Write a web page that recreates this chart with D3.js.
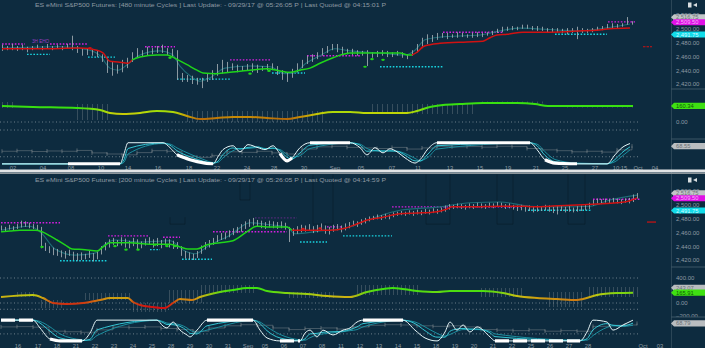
<!DOCTYPE html>
<html><head><meta charset="utf-8">
<script src="https://cdn.jsdelivr.net/npm/d3@7"></script>
<style>html,body{margin:0;padding:0;background:#0d2b3f;overflow:hidden}svg{display:block}
text{font-family:"Liberation Sans",Arial,sans-serif}</style>
</head><body><svg id="c" width="705" height="348"></svg>
<script>
// ===================== DATA =====================
const titleTop = "ES eMini S&P500 Futures: [480 minute Cycles ] Last Update:  - 09/29/17 @ 05:26:05 P | Last Quoted @ 04:15:01 P";
const titleBot = "ES eMini S&P500 Futures: [200 minute Cycles ] Last Update:  - 09/29/17 @ 05:26:05 P | Last Quoted @ 04:14:59 P";
const topNote = "3H EHO";

// ---- top panel (480 min bars) ----
const topHigh = [2477,2475,2478,2475,2477,2474,2475,2477,2475,2478,
2475,2477,2475,2478,2490,2475,2472,2471,2471,2469,
2463,2458,2452,2448,2455,2458,2466,2472,2469,2474,
2472,2475,2477,2472,2471,2469,2436,2433,2432,2429,
2429,2435,2440,2449,2455,2452,2450,2448,2446,2449,
2450,2448,2446,2449,2450,2446,2440,2437,2442,2450,
2455,2461,2463,2466,2472,2475,2478,2478,2474,2471,
2471,2469,2468,2469,2466,2468,2469,2468,2466,2468,
2466,2463,2469,2478,2487,2492,2491,2494,2494,2494,
2492,2495,2494,2492,2494,2495,2494,2495,2497,2500,
2503,2503,2504,2503,2506,2506,2504,2504,2503,2501,
2501,2501,2500,2501,2501,2503,2501,2500,2501,2503,
2504,2507,2508,2507,2508,2517,2511];
const topLow = [2468,2469,2469,2468,2469,2466,2469,2471,2469,2471,
2469,2471,2469,2471,2469,2465,2461,2462,2461,2459,
2452,2436,2432,2435,2437,2443,2452,2458,2459,2462,
2463,2465,2465,2462,2459,2426,2423,2423,2420,2419,
2414,2423,2426,2432,2435,2437,2440,2437,2439,2439,
2437,2436,2439,2440,2440,2433,2426,2423,2429,2437,
2443,2449,2452,2456,2461,2465,2469,2466,2463,2463,
2462,2461,2461,2446,2458,2459,2461,2459,2459,2461,
2458,2456,2461,2466,2472,2478,2481,2484,2487,2485,
2487,2487,2488,2487,2487,2488,2488,2490,2491,2494,
2495,2497,2498,2498,2500,2500,2498,2497,2497,2495,
2494,2495,2494,2492,2494,2485,2494,2494,2495,2497,
2498,2500,2501,2501,2503,2506,2506];
const topMaIdx = [0,7.6,15.6,19,20.2,21.6,23.2,25.2,26,27.6,31,33,34.2,35.2,37,39,40.2,43,45.6,49.6,53,55.6,57.6,59.6,61.6,63.6,66.2,68.2,69.6,73.6,79.6,81.2,82,83,84.2,85.6,87.6,93,96.2,97.6,99,101,104.2,109.6,116.2,119,121.6,125.6];
const topMaVal = [2471,2471,2472,2469,2465,2453,2452,2450,2455,2459,2462,2462,2459,2455,2448,2440,2436,2435,2437,2440,2442,2439,2437,2440,2443,2450,2458,2463,2465,2465,2465,2462,2462,2466,2474,2477,2479,2481,2482,2487,2491,2492,2495,2495,2497,2498,2500,2501];
const topMaUp  = [0,0,0,0,0,0,0,0,1,1,1,1,1,1,1,1,1,1,1,1,1,1,1,1,1,1,1,1,1,1,1,1,0,0,0,0,0,0,0,0,0,0,0,0,0,0,0,0];
const topFastIdx = [0,11.6,17.6,19.6,21.6,23.2,25.2,27.6,31.6,34,35.6,37.6,39.6,41.6,44.6,49.6,53.6,56.6,58.6,60.6,63.6,66.6,69.6,75.6,80.6,82.6,84.6,87.6,95.6,99.6,103.6,111.6,115.6,119.6,125.6];
const topFastVal = [2472,2474,2469,2461,2443,2440,2449,2462,2468,2463,2446,2432,2424,2429,2443,2446,2445,2435,2436,2449,2461,2471,2468,2465,2462,2469,2484,2488,2491,2497,2501,2498,2497,2500,2507];
const topMagStart = [0,9.6,28.6,45.6,61,88.2,121.2];
const topMagEnd   = [4.6,17,34.6,53.6,71.6,100.2,126.6];
const topMagPrice = [2478,2478,2474,2455,2461,2495,2510];
const topCyanStart = [5,17.2,35,54,75.6,110.6];
const topCyanEnd   = [9.6,22.6,45.6,60.6,88.2,121];
const topCyanPrice = [2463,2459,2427,2436,2445,2492];
const topDotIdx = [17.6,33.6,49.6,53.4,72.6,74,76.2];
const topDotVal = [2472,2458,2435,2439,2445,2456,2455];
const topDotUp  = [0,1,1,1,1,1,1];
const topTarget = [128.2,130,2474];
const topPriceTicks = [2420,2440,2460,2480,2500,2520];
const topLast = [2516.75, 2509.50, 2491.75];
// oscillator
const topOscIdx = [0,6.2,15,19.6,21.6,24.2,27.6,31,34.2,37,39.6,43,46.2,49.6,53,57,59.6,63,66.2,69.6,73,77.6,81,83,85.6,88.2,91.6,96.2,103,106.6,109.2,112.6,119.6,126.2];
const topOscVal = [160,150,140,120,90,80,90,110,100,60,30,40,50,50,40,30,50,80,100,100,90,90,90,110,150,170,180,190,190,180,160,160,160,160.34];
const topBandStart = [0,15,37,74,96,113];
const topBandEnd   = [2,21,64,94,108,126];
const topBandHi    = [200,180,110,180,205,170];
const topBandLo    = [140,20,0,80,185,145];
const topOscTicks = [0,-200];
const topOscGrid = [0,-80];
// cycles
const topCycIdx = [0,13.2,23.6,24.4,25.2,32.2,33.6,35,37.6,40.6,42.2,43.2,44.2,46.2,47.6,49.2,51.2,52.6,54.2,55.6,57,58,59.6,61.6,69.6,71.6,73,74.6,76.2,77.6,79,80.6,82.6,83.6,85.2,87,105.6,107,108.6,110.6,115,121,122.6,124,125.6];
const topCycA = [4,4,4,41,81,81,63,37,19,7,4,30,56,70,48,74,63,56,70,41,15,26,63,81,81,63,37,63,44,59,48,26,7,19,59,81,81,56,19,7,4,4,37,63,78];
const topCycB = [4,4,4,20,60,80,72,52,30,12,6,14,38,62,58,64,66,58,62,52,28,22,44,72,81,72,50,52,50,52,50,36,15,14,40,70,81,70,35,12,5,4,20,45,66];
const topCycC = [4,4,4,10,40,78,76,62,40,18,9,10,26,52,60,60,64,60,60,56,38,28,34,60,80,76,60,52,52,50,50,42,24,16,28,58,80,76,48,20,7,5,12,32,55];
const topWhiteStart = [13.2,35,55.6,61.6,87,108.6];
const topWhiteEnd   = [23.6,42.2,58,69.6,105.6,115];
const topGrayVal = [50,52,49,51,50,53,44,40,37,45,52,50,32,28,35,48,46,50,44,40,58,66,68,64,62,60,64,58,62,68,66,67,65,68,67,60,55,52,48,50,47,55,68.55];
const topXIdx = [2.2,8.2,13.8,19.8,25.2,31.2,37.4,43,49,54.4,60.4,66.6,71.8,78,83.2,89.6,95.6,101.2,106.8,112.6,118.6,123.6,127.2,130.6];
const topXLab = ["02","04","08","10","14","16","18","22","24","28","30","Sep","05","07","11","13","15","19","21","25","27","10:15","Oct","04"];

// ---- bottom panel (200 min bars) ----
const botHigh = [2470,2468,2471,2469,2472,2477,2476,2474,2472,2471,
2468,2445,2440,2438,2436,2434,2433,2435,2432,2430,
2431,2429,2433,2430,2432,2440,2446,2450,2452,2449,
2453,2451,2448,2452,2450,2447,2451,2453,2450,2452,
2449,2451,2450,2448,2446,2440,2433,2431,2429,2433,
2441,2446,2449,2452,2456,2459,2460,2463,2466,2468,
2472,2476,2479,2481,2478,2477,2475,2477,2476,2475,
2476,2474,2468,2466,2469,2471,2470,2472,2469,2471,
2473,2470,2468,2471,2472,2470,2473,2475,2477,2476,
2479,2481,2483,2484,2486,2485,2487,2486,2489,2490,
2491,2490,2492,2491,2493,2492,2494,2493,2495,2494,
2496,2499,2501,2500,2502,2501,2500,2502,2501,2503,
2502,2501,2503,2502,2504,2503,2501,2502,2500,2499,
2500,2498,2499,2497,2499,2498,2500,2499,2497,2498,
2499,2497,2498,2496,2498,2499,2500,2503,2507,2509,
2508,2509,2508,2510,2509,2508,2509,2510,2515,2517];
const botLow = [2463,2462,2464,2462,2465,2467,2468,2466,2465,2463,
2437,2433,2430,2427,2426,2424,2422,2426,2420,2419,
2420,2421,2423,2418,2421,2428,2434,2438,2442,2440,
2441,2438,2437,2440,2436,2437,2441,2442,2438,2440,
2437,2441,2438,2436,2436,2426,2422,2421,2420,2423,
2429,2435,2438,2442,2446,2449,2450,2453,2456,2459,
2461,2465,2468,2470,2468,2466,2465,2467,2466,2465,
2466,2464,2446,2455,2458,2460,2461,2462,2459,2460,
2463,2458,2457,2461,2463,2460,2463,2466,2469,2468,
2471,2473,2476,2478,2479,2478,2480,2479,2482,2484,
2485,2484,2486,2484,2486,2485,2487,2486,2488,2487,
2489,2490,2493,2494,2495,2494,2493,2495,2494,2496,
2495,2494,2496,2495,2497,2496,2494,2495,2493,2491,
2492,2490,2491,2489,2490,2491,2492,2490,2488,2486,
2491,2489,2490,2489,2490,2491,2492,2494,2499,2502,
2501,2503,2502,2503,2502,2501,2503,2502,2504,2509];
const botMaIdx = [0,2.25,4.75,8.5,10.25,12.25,14,16,17.75,21,24,25.5,27.25,32.25,37.25,42.25,44.75,46.75,49,51.5,54.75,58,61.5,64,66.5,71.5,72.75,77.25,82.25,86,88.5,91,95.5,99.75,104,109,111.5,112.75,117.25,124.75,131,132.75,137.25,145.5,149,154,157.25,159];
const botMaVal = [2461,2462,2463,2463,2461,2455,2449,2442,2436,2435,2433,2439,2445,2445,2443,2443,2439,2436,2436,2442,2445,2448,2461,2469,2468,2468,2463,2463,2463,2466,2471,2477,2482,2487,2488,2490,2494,2497,2497,2498,2498,2497,2498,2500,2501,2503,2506,2510];
const botMaUp  = [1,1,1,1,1,1,1,1,1,1,1,1,1,1,1,1,1,1,1,1,1,1,1,1,1,1,0,0,0,0,0,0,0,0,0,0,0,0,0,0,0,0,0,0,0,0,0,0];
const botFastIdx = [0,7.25,10.25,13.5,18.5,23.5,26,28.5,34.75,42.25,46,48.5,52.25,57.25,62.25,67.25,71.5,73.5,79.75,86,92.25,99.75,109.75,117.25,124.75,132.25,139.75,147.25,152.25,159];
const botFastVal = [2463,2469,2458,2436,2427,2430,2443,2449,2446,2448,2433,2429,2442,2456,2474,2471,2468,2458,2462,2466,2479,2492,2497,2503,2504,2498,2497,2498,2507,2514];
const botMagStart = [0,26.75,40.5,53,81.5,97.75,148];
const botMagEnd   = [14.75,36.75,44.75,71.5,85.5,130.5,159.75];
const botMagPrice = [2474,2455,2453,2461,2468,2497,2508];
const botFaint = [63.5,74,2481];
const botCyanStart = [14.75,37.25,45.25,74.75,85.5,131.75];
const botCyanEnd   = [26.5,39.75,52.75,81.5,97.75,147.75];
const botCyanPrice = [2419,2435,2421,2446,2455,2492];
const botDotIdx = [10.25,28.5,31.25,34.25,38.5,41.5,43.5,75.5,79.75];
const botDotVal = [2439,2440,2435,2435,2442,2440,2440,2465,2466];
const botDotUp  = [1,1,1,1,1,1,1,0,0];
const botTarget = [161.5,163.75,2475];
const botPriceTicks = [2420,2440,2460,2480,2500,2520];
const botLast = [2516.75, 2509.50, 2491.75];
// ghost drawing boxes (index start, index end, price top, price bottom)
const botGhostS = [42.25,59.75,78,106.25,124,141.75];
const botGhostE = [46,62.25,83,112.25,128,146];
const botGhostTop = [2482,2545,2545,2545,2545,2545];
const botGhostBot = [2472,2507,2472,2472,2472,2472];
const botOscIdx = [0,8,10.5,13,16.5,20.5,24.75,27.25,31.75,33,34.75,38,41,43,44.75,47.75,49.75,54.75,58,61.5,64,66.5,71.5,76.5,81.5,87.25,91.5,95.5,98,104,109,112.25,120.5,125.5,129,134,139,144,145.5,149,154,158];
const botOscVal = [96,128,80,0,-16,0,48,80,80,16,-32,-64,-80,0,64,48,96,176,208,240,240,192,160,144,112,96,176,224,240,192,176,192,192,160,112,80,64,48,64,128,160,165.91];
const botBandStart = [4,10,21,33,42,50,72,89,120,137,147];
const botBandEnd   = [8,15,32,41,50,63,83,104,130,145,159];
const botBandHi    = [176,48,160,0,208,288,176,288,240,176,256];
const botBandLo    = [96,-80,48,-144,0,160,80,128,96,-64,96];
const botOscTicks = [400,0,-200];
const botOscGrid = [400,0,-100];
const botOscPrev = 243.07;
const botCycIdx = [0,8,9.75,12.25,14.75,20.25,22.25,24,39,40.5,41.5,43,44.75,46.5,47.25,49,51.5,63,64.75,66.5,69.75,74.75,76,77.25,79,80.5,83,85.5,87.25,89,90.5,100.5,103.5,106,109,111,112.25,114,115.5,117.25,119,122.25,123.5,144.75,146.5,148,151.5,153,155.5,158];
const botCycA = [81,81,52,11,4,4,33,81,81,59,52,74,44,26,19,44,81,81,44,15,4,4,33,44,19,44,26,44,52,74,81,81,44,15,4,37,74,44,63,37,56,19,4,4,37,81,74,44,63,81];
const botCycB = [81,81,70,40,15,5,10,45,81,72,65,64,58,42,32,30,60,81,68,42,15,5,12,30,32,36,38,40,46,56,68,81,68,42,18,18,40,48,50,48,48,34,20,5,12,45,68,62,60,70];
const botCycC = [81,81,76,56,30,8,6,24,80,76,70,68,64,52,44,36,44,80,74,56,28,8,7,16,26,30,34,38,42,46,56,80,74,56,32,22,28,40,46,46,46,40,30,7,7,24,54,60,58,62];
const botWhiteStart = [0,12.25,51.5,69.75,90.5,123.5];
const botWhiteEnd   = [8,20.25,63,74.75,100.5,144.75];
const botWhiteDash  = [1,0,0,1,0,1];
const botGrayVal = [56,57,55,40,38,36,45,55,54,56,50,46,40,52,60,64,62,52,46,50,52,48,56,62,64,63,60,58,60,56,46,44,42,45,40,42,40,58,62,63,68.79];
const botXIdx = [4.25,9.25,14,18.75,23.5,28.25,33,37.75,42.5,47.25,52,56.75,61.75,66,70.75,75.5,80.25,85,89.75,94.5,99.25,104,108.75,113.5,118.25,123,127.75,132.5,137.25,142,146.75,160.5,164.75];
const botXLab = ["16","17","18","21","22","23","24","25","28","29","30","31","Sep","05","06","07","08","11","12","13","14","15","18","19","20","21","22","25","26","27","28","Oct","03"];

// ===================== DRAW =====================
const svg = d3.select('#c');
const defs = svg.append('defs');
const W = 705, AX = 671;
const GREEN = '#1fd41a', RED = '#d11212', MAG = '#d41ee0', CYAN = '#18d4e0';
const TXT = '#8d9aa3';
const FONT = '"Liberation Sans",Arial,sans-serif';

svg.append('rect').attr('width', W).attr('height', 348).attr('fill', '#0d2b3f');

let clipN = 0;
function paneG(y0, y1) {
  const id = 'clp' + (clipN++);
  defs.append('clipPath').attr('id', id).append('rect').attr('x', 0).attr('y', y0).attr('width', AX).attr('height', y1 - y0);
  return svg.append('g').attr('clip-path', `url(#${id})`);
}
function axisClip(y0, y1) {
  const id = 'clp' + (clipN++);
  defs.append('clipPath').attr('id', id).append('rect').attr('x', AX).attr('y', y0).attr('width', W - AX).attr('height', y1 - y0);
  return svg.append('g').attr('clip-path', `url(#${id})`);
}
function valueBox(g, yPos, text, fill, color) {
  const h = 6.2, x0 = 674;
  g.append('path').attr('d', `M${x0 - 3},${yPos} L${x0},${yPos - h / 2} L${W},${yPos - h / 2} L${W},${yPos + h / 2} L${x0},${yPos + h / 2} Z`).attr('fill', fill);
  g.append('text').attr('x', 676).attr('y', yPos).attr('dy', '0.35em').attr('font-size', 5.8).attr('fill', color).text(text);
}
function dotted(g, x, y, s, e, p, color, w, op) {
  s.forEach((d, i) => g.append('line').attr('x1', x(d)).attr('x2', x(e[i])).attr('y1', y(p[i])).attr('y2', y(p[i]))
    .attr('stroke', color).attr('stroke-width', w).attr('stroke-dasharray', '1.6,1.6').attr('opacity', op));
}
function trendLine(g, x, y, idx, val, up) {
  const runs = []; let cur = { up: up[0], pts: [[idx[0], val[0]]] };
  for (let i = 1; i < idx.length; i++) {
    cur.pts.push([idx[i], val[i]]);
    if (up[i] !== cur.up) { runs.push(cur); cur = { up: up[i], pts: [[idx[i], val[i]]] }; }
  }
  runs.push(cur);
  const line = d3.line().x(d => x(d[0])).y(d => y(d[1])).curve(d3.curveMonotoneX);
  runs.forEach(r => g.append('path').attr('d', line(r.pts)).attr('fill', 'none').attr('stroke', r.up ? GREEN : RED).attr('stroke-width', 1.5));
}
let gradN = 0;
function gradLine(g, x, y, idx, val, cs) {
  const id = 'grd' + (gradN++);
  const x0 = x(idx[0]), x1 = x(idx[idx.length - 1]);
  const gr = defs.append('linearGradient').attr('id', id).attr('gradientUnits', 'userSpaceOnUse')
    .attr('x1', x0).attr('x2', x1).attr('y1', 0).attr('y2', 0);
  idx.forEach((d, i) => gr.append('stop').attr('offset', (x(d) - x0) / (x1 - x0)).attr('stop-color', cs(val[i])));
  g.append('path').attr('d', d3.line().x(d => x(d[0])).y(d => y(d[1])).curve(d3.curveMonotoneX)(idx.map((d, i) => [d, val[i]])))
    .attr('fill', 'none').attr('stroke', `url(#${id})`).attr('stroke-width', 2);
}

function drawPanel(P) {
  const { x, y, o, c } = P;
  // ghost drawings
  if (P.ghostS) {
    const gg = paneG(P.ghostTopPx, P.priceBot);
    P.ghostS.forEach((s, i) => gg.append('path')
      .attr('d', `M${x(s)},${y(P.ghostTop[i])} L${x(s)},${y(P.ghostBot[i])} L${x(P.ghostE[i])},${y(P.ghostBot[i])} L${x(P.ghostE[i])},${y(P.ghostTop[i])}`)
      .attr('fill', 'none').attr('stroke', '#07161f').attr('stroke-width', 0.8).attr('opacity', 0.5));
  }
  // ----- title -----
  svg.append('text').attr('x', 35).attr('y', P.titleY).attr('dy', '0.35em').attr('font-size', 6.2).attr('fill', TXT)
    .attr('textLength', 351).attr('lengthAdjust', 'spacingAndGlyphs').text(P.title);
  // ----- price pane -----
  const gp = paneG(P.priceTop, P.priceBot);
  dotted(gp, x, y, P.magS, P.magE, P.magP, MAG, 1.4, 1);
  if (P.faint) dotted(gp, x, y, [P.faint[0]], [P.faint[1]], [P.faint[2]], '#7a2a9a', 1, 0.8);
  dotted(gp, x, y, P.cyS, P.cyE, P.cyP, CYAN, 1.4, 1);
  if (P.note) gp.append('text').attr('x', x(P.note[0])).attr('y', y(P.note[1])).attr('font-size', 4.6)
    .attr('fill', '#9b3cc4').text(P.note[2]);
  gp.append('path').attr('d', d3.line().x((d, i) => x(P.fastIdx[i])).y(d => y(d)).curve(d3.curveMonotoneX)(P.fastVal))
    .attr('fill', 'none').attr('stroke', '#1d6a75').attr('stroke-width', 1.1);
  gp.selectAll('line.bar').data(P.high).enter().append('line')
    .attr('x1', (d, i) => x(i) + 0.5).attr('x2', (d, i) => x(i) + 0.5)
    .attr('y1', d => y(d)).attr('y2', (d, i) => y(P.low[i]))
    .attr('stroke', '#a3adb3').attr('stroke-width', 1).attr('opacity', 0.85);
  trendLine(gp, x, y, P.maIdx, P.maVal, P.maUp);
  P.dotIdx.forEach((d, i) => gp.append('ellipse').attr('cx', x(d)).attr('cy', y(P.dotVal[i])).attr('rx', 1.8).attr('ry', 1.1)
    .attr('fill', P.dotUp[i] ? GREEN : RED));
  gp.append('line').attr('x1', x(P.target[0])).attr('x2', x(P.target[1])).attr('y1', y(P.target[2])).attr('y2', y(P.target[2]))
    .attr('stroke', RED).attr('stroke-width', 1.2).attr('stroke-dasharray', P.targetDash);
  // ----- oscillator pane -----
  const go = paneG(P.oscTop, P.oscBot);
  P.oscGrid.forEach(v => go.append('line').attr('x1', 0).attr('x2', 640).attr('y1', o(v)).attr('y2', o(v))
    .attr('stroke', '#6d7f8a').attr('stroke-width', 1).attr('stroke-dasharray', '1,2.5'));
  P.bandS.forEach((s, b) => {
    for (let i = Math.ceil(s); i <= P.bandE[b]; i++) {
      go.append('line').attr('x1', x(i) + 0.5).attr('x2', x(i) + 0.5).attr('y1', o(P.bandHi[b])).attr('y2', o(P.bandLo[b]))
        .attr('stroke', '#6c7a83').attr('stroke-width', 0.7).attr('opacity', 0.65);
    }
  });
  gradLine(go, x, o, P.oscIdx, P.oscVal, P.oscColor);
  // ----- cycle pane -----
  const gc = paneG(P.cycTop, P.cycBot);
  gc.append('line').attr('x1', 0).attr('x2', 640).attr('y1', c(30)).attr('y2', c(30))
    .attr('stroke', '#6d7f8a').attr('stroke-width', 1).attr('stroke-dasharray', '1,2.5');
  gc.append('path').attr('d', d3.line().x((d, i) => x(P.grayIdx[i])).y(d => c(d)).curve(d3.curveStepAfter)(P.grayVal))
    .attr('fill', 'none').attr('stroke', '#7e888e').attr('stroke-width', 0.7).attr('opacity', 0.7);
  P.grayVal.forEach((d, i) => gc.append('line').attr('x1', x(P.grayIdx[i])).attr('x2', x(P.grayIdx[i]))
    .attr('y1', c(d) - 2).attr('y2', c(d) + 2).attr('stroke', '#7e888e').attr('stroke-width', 0.8).attr('opacity', 0.8));
  const cl = (vals) => d3.line().x((d, i) => x(P.cycIdx[i])).y(d => c(d)).curve(d3.curveMonotoneX)(vals);
  gc.append('path').attr('d', cl(P.cycC)).attr('fill', 'none').attr('stroke', '#1c8fa0').attr('stroke-width', 1);
  gc.append('path').attr('d', cl(P.cycB)).attr('fill', 'none').attr('stroke', '#35c6d4').attr('stroke-width', 1);
  gc.append('path').attr('d', cl(P.cycA)).attr('fill', 'none').attr('stroke', '#e6f6f8').attr('stroke-width', 1);
  P.whS.forEach((s, b) => {
    const pts = P.cycIdx.map((d, i) => [d, P.cycA[i]]).filter(p => p[0] >= s - 1e-6 && p[0] <= P.whE[b] + 1e-6);
    gc.append('path').attr('d', d3.line().x(d => x(d[0])).y(d => c(d[1])).curve(d3.curveMonotoneX)(pts))
      .attr('fill', 'none').attr('stroke', '#ffffff').attr('stroke-width', 3.2)
      .attr('stroke-dasharray', P.whDash && P.whDash[b] ? '14,4' : null);
  });
  // ----- x axis labels -----
  P.xIdx.forEach((d, i) => svg.append('text').attr('x', x(d)).attr('y', P.xLabY).attr('dy', '0.35em')
    .attr('text-anchor', 'middle').attr('font-size', 5.8).attr('fill', TXT).text(P.xLab[i]));
  // ----- right axis -----
  const ga = svg.append('g').attr('transform', `translate(${AX + 2},0)`);
  ga.call(d3.axisRight(y).tickValues(P.priceTicks).tickSize(0).tickPadding(3).tickFormat(d3.format(',.2f')));
  ga.select('.domain').remove();
  ga.selectAll('text').attr('font-size', 6).attr('fill', TXT).attr('font-family', FONT);
  const gax = axisClip(P.oscTop, P.oscBot);
  const ga2 = gax.append('g').attr('transform', `translate(${AX + 2},0)`);
  ga2.call(d3.axisRight(o).tickValues(P.oscTicks).tickSize(0).tickPadding(3).tickFormat(d3.format(',.2f')));
  ga2.select('.domain').remove();
  ga2.selectAll('text').attr('font-size', 6).attr('fill', TXT).attr('font-family', FONT);
  [P.oscTop, P.cycTop].forEach(yy => svg.append('line').attr('x1', AX).attr('x2', W).attr('y1', yy).attr('y2', yy)
    .attr('stroke', '#3d5666').attr('stroke-width', 1));
  valueBox(svg, y(P.last[0]), d3.format(',.2f')(P.last[0]), '#c2c6c8', '#6c7276');
  valueBox(svg, y(P.last[1]), d3.format(',.2f')(P.last[1]), '#e012e6', '#f6b4f8');
  valueBox(svg, y(P.last[2]), d3.format(',.2f')(P.last[2]), '#12dcea', '#d2fbff');
  if (P.oscPrev !== undefined) valueBox(svg, o(P.oscPrev), d3.format(',.2f')(P.oscPrev), '#b9bdc0', '#6c7276');
  const lastOsc = P.oscVal[P.oscVal.length - 1];
  valueBox(svg, o(lastOsc), d3.format(',.2f')(lastOsc), '#3fe012', '#0e5a06');
  const lastGray = P.grayVal[P.grayVal.length - 1];
  valueBox(svg, c(lastGray), d3.format(',.2f')(lastGray), '#b9bdc0', '#6c7276');
  // icon
  svg.append('rect').attr('x', 688).attr('y', P.titleY - 2.5).attr('width', 3.5).attr('height', 5).attr('fill', '#d8dde0');
  svg.append('path').attr('d', `M693,${P.titleY} L697,${P.titleY - 2} L697,${P.titleY + 2} Z`).attr('fill', '#d8dde0');
}

// axis separator line
svg.append('line').attr('x1', AX + 0.5).attr('x2', AX + 0.5).attr('y1', 0).attr('y2', 348).attr('stroke', '#2b4657').attr('stroke-width', 1);

drawPanel({
  title: titleTop, titleY: 5,
  x: d3.scaleLinear().domain([0, 126]).range([2, 632]),
  y: d3.scaleLinear().domain([2420, 2520]).range([84, 15]),
  o: d3.scaleLinear().domain([0, 160]).range([122, 106]),
  c: d3.scaleLinear().domain([0, 100]).range([165, 137.5]),
  priceTop: 10, priceBot: 89, oscTop: 89, oscBot: 139, cycTop: 139, cycBot: 165.5,
  high: topHigh, low: topLow, maIdx: topMaIdx, maVal: topMaVal, maUp: topMaUp,
  fastIdx: topFastIdx, fastVal: topFastVal,
  magS: topMagStart, magE: topMagEnd, magP: topMagPrice, note: [6, 2479, topNote],
  cyS: topCyanStart, cyE: topCyanEnd, cyP: topCyanPrice,
  dotIdx: topDotIdx, dotVal: topDotVal, dotUp: topDotUp, target: topTarget, targetDash: '2.5,1',
  priceTicks: topPriceTicks, last: topLast,
  oscIdx: topOscIdx, oscVal: topOscVal, oscTicks: topOscTicks, oscGrid: topOscGrid,
  oscColor: d3.scaleLinear().domain([30, 55, 85, 120, 140]).range(['#b86a08', '#c99204', '#c6d406', '#8ee00a', '#38e010']).clamp(true),
  bandS: topBandStart, bandE: topBandEnd, bandHi: topBandHi, bandLo: topBandLo,
  cycIdx: topCycIdx, cycA: topCycA, cycB: topCycB, cycC: topCycC,
  whS: topWhiteStart, whE: topWhiteEnd,
  grayIdx: topGrayVal.map((d, i) => i * 3), grayVal: topGrayVal,
  xIdx: topXIdx, xLab: topXLab, xLabY: 167.5
});

// separator between the two charts
svg.append('rect').attr('x', 0).attr('y', 169.5).attr('width', W).attr('height', 3).attr('fill', '#e2e4e6');
svg.append('line').attr('x1', 0).attr('x2', W).attr('y1', 173.5).attr('y2', 173.5).attr('stroke', '#8a949a').attr('stroke-width', 1);

drawPanel({
  title: titleBot, titleY: 180,
  x: d3.scaleLinear().domain([0, 159]).range([1, 637]),
  y: d3.scaleLinear().domain([2420, 2520]).range([260, 191]),
  o: d3.scaleLinear().domain([0, 400]).range([303, 278]),
  c: d3.scaleLinear().domain([0, 100]).range([342, 315]),
  priceTop: 184, priceBot: 267, oscTop: 267, oscBot: 317, cycTop: 317, cycBot: 343,
  ghostS: botGhostS, ghostE: botGhostE, ghostTop: botGhostTop, ghostBot: botGhostBot, ghostTopPx: 174.5,
  high: botHigh, low: botLow, maIdx: botMaIdx, maVal: botMaVal, maUp: botMaUp,
  fastIdx: botFastIdx, fastVal: botFastVal,
  magS: botMagStart, magE: botMagEnd, magP: botMagPrice, faint: botFaint,
  cyS: botCyanStart, cyE: botCyanEnd, cyP: botCyanPrice,
  dotIdx: botDotIdx, dotVal: botDotVal, dotUp: botDotUp, target: botTarget, targetDash: null,
  priceTicks: botPriceTicks, last: botLast,
  oscIdx: botOscIdx, oscVal: botOscVal, oscTicks: botOscTicks, oscGrid: botOscGrid, oscPrev: botOscPrev,
  oscColor: d3.scaleLinear().domain([-60, 0, 60, 120, 200]).range(['#d01010', '#d03a10', '#d08a10', '#c8c810', '#3ee010']).clamp(true),
  bandS: botBandStart, bandE: botBandEnd, bandHi: botBandHi, bandLo: botBandLo,
  cycIdx: botCycIdx, cycA: botCycA, cycB: botCycB, cycC: botCycC,
  whS: botWhiteStart, whE: botWhiteEnd, whDash: botWhiteDash,
  grayIdx: botGrayVal.map((d, i) => Math.min(i * 4, 159)), grayVal: botGrayVal,
  xIdx: botXIdx, xLab: botXLab, xLabY: 345.5
});
</script></body></html>
